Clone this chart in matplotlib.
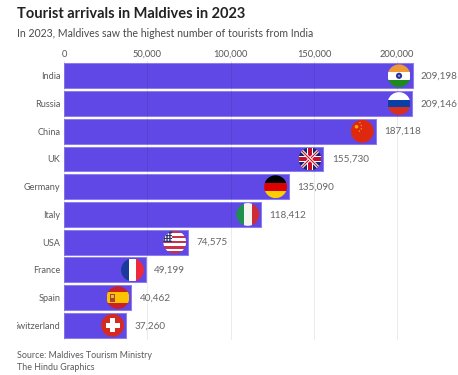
"""Tourist arrivals in Maldives in 2023 - horizontal bars with round flags."""
import numpy as np
import matplotlib
matplotlib.use("Agg")
import matplotlib.pyplot as plt
from matplotlib.patches import Circle, Rectangle
from matplotlib.transforms import Bbox

countries = ["India", "Russia", "China", "UK", "Germany", "Italy", "USA",
             "France", "Spain", "Switzerland"]
arrivals = [209198, 209146, 187118, 155730, 135090, 118412, 74575, 49199,
            40462, 37260]
x_ticks = [0, 50000, 100000, 150000, 200000]

W, H = 458, 375
FONT = "Lato"
BAR = "#5f48e6"
EDGE = "#8d7df0"
plt.rcParams["font.family"] = [FONT, "DejaVu Sans"]


def stripes(fa, colors, vertical=False):
    # equal stripes across the -1..1 flag square
    n = len(colors)
    for i, c in enumerate(colors):
        if vertical:
            fa.add_patch(Rectangle((-1 + 2 * i / n, -1), 2 / n, 2, color=c, lw=0))
        else:
            fa.add_patch(Rectangle((-1, 1 - 2 * (i + 1) / n), 2, 2 / n, color=c, lw=0))


def flag_india(fa):
    stripes(fa, ["#f09a36", "#ffffff", "#1c8a1e"])
    fa.add_patch(Circle((0, 0), 0.27, fc="#2a2f8f", lw=0))
    fa.add_patch(Circle((0, 0), 0.1, fc="#8f93d6", lw=0))


def flag_russia(fa):
    stripes(fa, ["#ffffff", "#0a3fa8", "#d8301f"])


def flag_china(fa):
    fa.add_patch(Rectangle((-1, -1), 2, 2, color="#de2910", lw=0))
    for px, py, s in [(-0.5, 0.4, 0.16), (-0.2, 0.75, 0.06), (-0.08, 0.5, 0.06),
                      (-0.08, 0.22, 0.06), (-0.25, 0.02, 0.06)]:
        fa.add_patch(Circle((px, py), s, fc="#f5a518", lw=0))


def flag_uk(fa):
    fa.add_patch(Rectangle((-1, -1), 2, 2, color="#14296b", lw=0))
    for sign in (1, -1):
        fa.plot([-1, 1], [-sign, sign], color="white", lw=2.2, solid_capstyle="butt")
        fa.plot([-1, 1], [-sign, sign], color="#c8102e", lw=0.8, solid_capstyle="butt")
    fa.add_patch(Rectangle((-1, -0.3), 2, 0.6, color="white", lw=0))
    fa.add_patch(Rectangle((-0.3, -1), 0.6, 2, color="white", lw=0))
    fa.add_patch(Rectangle((-1, -0.17), 2, 0.34, color="#c8102e", lw=0))
    fa.add_patch(Rectangle((-0.17, -1), 0.34, 2, color="#c8102e", lw=0))


def flag_germany(fa):
    stripes(fa, ["#000000", "#dd0000", "#ffce00"])


def flag_italy(fa):
    stripes(fa, ["#1f8f4e", "#f4f5f0", "#cf2b37"], vertical=True)


def flag_usa(fa):
    stripes(fa, ["#c8324a", "#ffffff"] * 4 + ["#c8324a"])
    fa.add_patch(Rectangle((-1, 0), 0.8, 1, color="#2c2f6b", lw=0))
    for px in (-0.8, -0.55, -0.3):
        for py in (0.2, 0.45, 0.7):
            fa.add_patch(Circle((px, py), 0.08, fc="white", lw=0))


def flag_france(fa):
    stripes(fa, ["#1a3a9c", "#ffffff", "#ee2a3a"], vertical=True)


def flag_spain(fa):
    fa.add_patch(Rectangle((-1, -1), 2, 2, color="#c8202a", lw=0))
    fa.add_patch(Rectangle((-1, -0.5), 2, 1, color="#fcc100", lw=0))
    fa.add_patch(Rectangle((-0.72, -0.36), 0.45, 0.7, color="#a5462c", lw=0))
    fa.add_patch(Rectangle((-0.62, 0.0), 0.25, 0.22, color="#e8b83c", lw=0))


def flag_swiss(fa):
    fa.add_patch(Rectangle((-1, -1), 2, 2, color="#d52b1e", lw=0))
    fa.add_patch(Rectangle((-0.62, -0.2), 1.24, 0.4, color="white", lw=0))
    fa.add_patch(Rectangle((-0.2, -0.62), 0.4, 1.24, color="white", lw=0))


flag_funcs = [flag_india, flag_russia, flag_china, flag_uk, flag_germany,
              flag_italy, flag_usa, flag_france, flag_spain, flag_swiss]

fig = plt.figure(figsize=(W / 100, H / 100), dpi=100, facecolor="white")

# plot area in pixels
left, right, top, bottom = 64, 439.6, 60.5, 339.5
ax = fig.add_axes([left / W, 1 - bottom / H, (right - left) / W, (bottom - top) / H])
ax.set_xlim(0, (right - left) / 1.666 * 1000)
ax.set_ylim(9.51, -0.552)
for s in ax.spines.values():
    s.set_visible(False)

y = np.arange(len(countries))
ax.barh(y, arrivals, height=0.9, color=BAR, edgecolor=EDGE, linewidth=0.75, zorder=2)
for t in x_ticks:
    ax.axvline(t, color="black", alpha=0.08, lw=0.75, zorder=3)

ax.xaxis.tick_top()
ax.set_xticks(x_ticks)
ax.set_xticklabels([f"{t:,}" for t in x_ticks])
ax.tick_params(axis="x", length=0, pad=1.2, labelsize=6.7, labelcolor="#555555")
ax.set_yticks(y)
ax.set_yticklabels(countries)
ax.tick_params(axis="y", length=0, pad=2.6, labelsize=6.6, labelcolor="#5a5a5a")

# the long category label runs off the chart's left edge
clip = Bbox([[17, 0], [W, H]])
for lab in ax.get_yticklabels():
    lab.set_clip_box(clip)
    lab.set_clip_on(True)

for yi, v in zip(y, arrivals):
    ax.annotate(f"{v:,}", (v, yi), xytext=(6, -0.3), textcoords="offset points",
                va="center", ha="left", fontsize=7.2, color="#666666")

# round flags, sitting just inside the end of each bar
fig.canvas.draw()
R = 11.4
for yi, v, func in zip(y, arrivals, flag_funcs):
    px, py = ax.transData.transform((v, yi))
    cx = px - 13.5
    fa = fig.add_axes([(cx - R) / W, (py - R) / H, 2 * R / W, 2 * R / H], zorder=5)
    fa.set_xlim(-1, 1)
    fa.set_ylim(-1, 1)
    fa.axis("off")
    func(fa)
    circ = Circle((0, 0), 1, transform=fa.transData)
    for art in fa.patches + fa.lines:
        art.set_clip_path(circ)

fig.text(17 / W, 1 - 13.5 / H, "Tourist arrivals in Maldives in 2023", fontsize=10.5,
         fontweight="bold", color="#222222", va="center", ha="left")
fig.text(17 / W, 1 - 33.5 / H, "In 2023, Maldives saw the highest number of tourists from India",
         fontsize=7.6, color="#4a4a4a", va="center", ha="left")
fig.text(17 / W, 1 - 355.5 / H, "Source: Maldives Tourism Ministry", fontsize=6.4,
         color="#5a5a5a", va="center", ha="left")
fig.text(17 / W, 1 - 367 / H, "The Hindu Graphics", fontsize=6.4,
         color="#5a5a5a", va="center", ha="left")

fig.savefig("out.png", dpi=100)
